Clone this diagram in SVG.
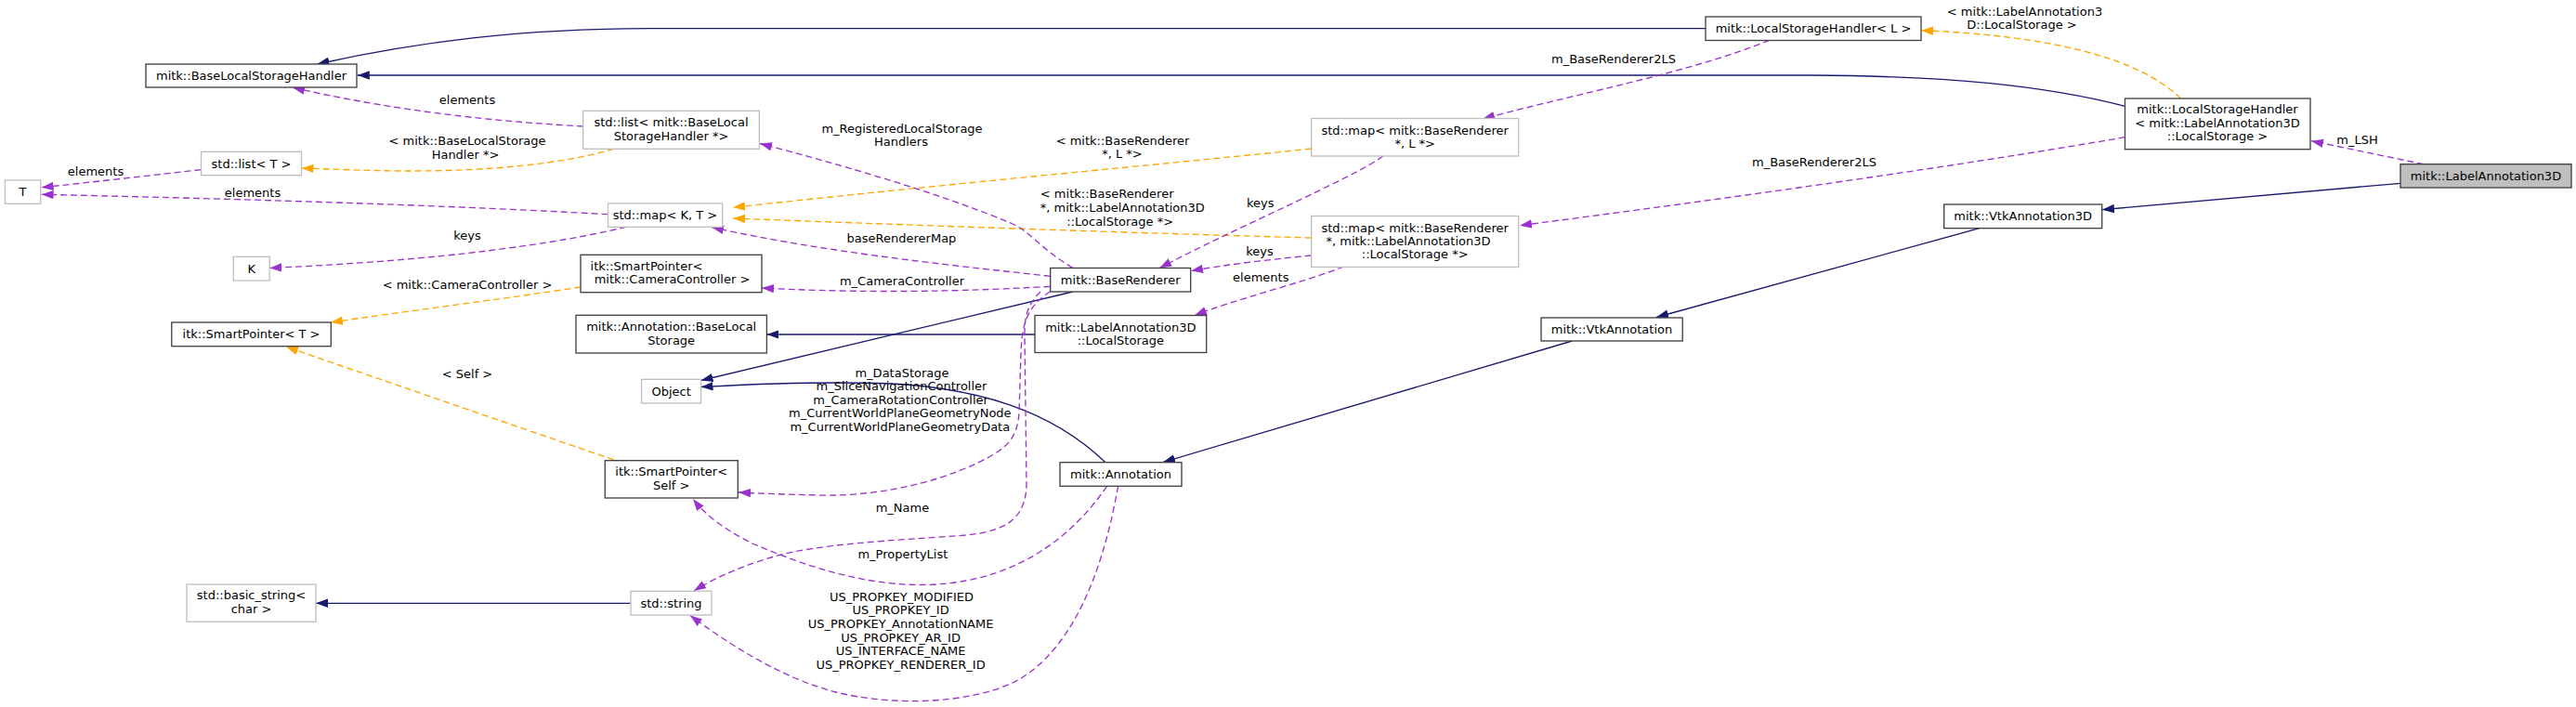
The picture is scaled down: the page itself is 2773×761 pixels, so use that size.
<svg xmlns="http://www.w3.org/2000/svg" width="2773" height="761" viewBox="0 0 2773 761">
<style>
text{font-family:"DejaVu Sans","Liberation Sans",sans-serif;font-size:13px;fill:#000;text-anchor:middle}
.nb{fill:#fff;stroke:#404040;stroke-width:1.33}
.ng{fill:#fff;stroke:#bfbfbf;stroke-width:1.33}
.nm{fill:#bfbfbf;stroke:#404040;stroke-width:1.33}
.eb{fill:none;stroke:#191970;stroke-width:1.33;marker-end:url(#ab)}
.ep{fill:none;stroke:#9a32cd;stroke-width:1.33;stroke-dasharray:7,4;marker-end:url(#ap)}
.eo{fill:none;stroke:#ffa500;stroke-width:1.33;stroke-dasharray:7,4;marker-end:url(#ao)}
</style>
<defs>
<marker id="ab" markerUnits="userSpaceOnUse" markerWidth="14" markerHeight="10" refX="13" refY="4.7" orient="auto"><path d="M0,0 L13,4.7 L0,9.4 Z" fill="#191970"/></marker>
<marker id="ap" markerUnits="userSpaceOnUse" markerWidth="14" markerHeight="10" refX="13" refY="4.7" orient="auto"><path d="M0,0 L13,4.7 L0,9.4 Z" fill="#9a32cd"/></marker>
<marker id="ao" markerUnits="userSpaceOnUse" markerWidth="14" markerHeight="10" refX="13" refY="4.7" orient="auto"><path d="M0,0 L13,4.7 L0,9.4 Z" fill="#ffa500"/></marker>
</defs>
<rect width="2773" height="761" fill="#fff"/>
<g id="connectors">
<path class="eb" d="M1836,30.7 L700,30.7 C560,31 450,45 341.5,69"/>
<path class="eb" d="M2287.5,114.3 C2200,92 2100,82 1950,81 L384.8,81"/>
<path class="eo" d="M2347.6,106 C2300,60 2200,38 2068,32.7"/>
<path class="ep" d="M1904.6,43.3 C1820,78 1700,100 1596,128"/>
<path class="ep" d="M2287.5,147.7 C2100,180 1850,215 1636,242.7"/>
<path class="ep" d="M2609,176.7 L2488,151.7"/>
<path class="eb" d="M2584,197.3 L2263,225.7"/>
<path class="eb" d="M2130.7,245.7 L1783,341.5"/>
<path class="eb" d="M1692.3,367 L1252,497.5"/>
<path class="eb" d="M1190,497.7 C1130,440 1050,418 960,413 C880,410 800,414 754.5,416.5"/>
<path class="eb" d="M1155,314 L754.5,409.5"/>
<path class="eb" d="M1114,360 L825.4,360"/>
<path class="eb" d="M679,649.3 L340,649.3"/>
<path class="ep" d="M628,136 C520,130 420,118 315,94.3"/>
<path class="eo" d="M660.7,160.3 C600,178 520,184 440,184 C400,184 360,182 324.5,181"/>
<path class="ep" d="M216.5,182.7 C150,190 100,196 44.6,201.7"/>
<path class="ep" d="M654.5,230.7 C500,222 300,215 44.6,209.3"/>
<path class="ep" d="M674,244.3 C600,262 480,280 290.2,288.5"/>
<path class="eo" d="M1411.7,160 C1300,172 1000,200 789,223.3"/>
<path class="eo" d="M1411.7,256 C1200,250 1000,243 789,235"/>
<path class="ep" d="M1130.7,297.3 C1000,283 880,270 766,244.5"/>
<path class="ep" d="M1130.7,308.3 C1000,316 900,314 820,310"/>
<path class="ep" d="M1155,288.3 C1120,268 1110,250 1090,241 C1010,207 900,176 818,154.5"/>
<path class="ep" d="M1488.8,168 C1460,190 1320,250 1248.3,288.5"/>
<path class="ep" d="M1411.7,275 C1360,280 1320,285 1282,291.5"/>
<path class="ep" d="M1446.7,287 C1400,305 1330,322 1286,339.5"/>
<path class="ep" d="M1131,313.5 C1108,328 1100,345 1099,380 L1097,445 C1095,470 1085,480 1068,490 C1030,512 960,535 880,533 C840,532 815,531 795,530"/>
<path class="ep" d="M1120,314 C1106,328 1103,340 1103,360 L1105,520 C1105,560 1080,572 1040,576 C960,582 880,585 830,600 C790,612 765,625 747,636"/>
<path class="ep" d="M1191.5,523.3 C1160,570 1110,612 1040,625 C960,640 880,615 810,585 C780,570 760,555 746,537"/>
<path class="ep" d="M1203.6,523.5 C1190,600 1160,700 1090,735 C1040,758 960,760 900,745 C840,730 780,690 743,662.5"/>
<path class="eo" d="M625,309 C540,322 430,336 356,347"/>
<path class="eo" d="M660.7,495 L308,373.3"/>
</g>
<g id="edge-labels">
<text x="503" y="111.5">elements</text>
<text x="503" y="156.2">&lt; mitk::BaseLocalStorage</text>
<text x="501" y="171.2">Handler *&gt;</text>
<text x="103" y="188.8">elements</text>
<text x="272" y="212.2">elements</text>
<text x="503" y="257.5">keys</text>
<text x="503" y="311.2">&lt; mitk::CameraController &gt;</text>
<text x="503" y="406.8">&lt; Self &gt;</text>
<text x="971" y="142.8">m_RegisteredLocalStorage</text>
<text x="970" y="157.2">Handlers</text>
<text x="1208.5" y="155.5">&lt; mitk::BaseRenderer</text>
<text x="1208" y="170">*, L *&gt;</text>
<text x="1191.7" y="212.8">&lt; mitk::BaseRenderer</text>
<text x="1208.3" y="227.8">*, mitk::LabelAnnotation3D</text>
<text x="1205.7" y="242.8">::LocalStorage *&gt;</text>
<text x="970.5" y="261.2">baseRendererMap</text>
<text x="971" y="307.2">m_CameraController</text>
<text x="971" y="405.5">m_DataStorage</text>
<text x="970.5" y="420.2">m_SliceNavigationController</text>
<text x="969.6" y="435.2">m_CameraRotationController</text>
<text x="968.8" y="449.2">m_CurrentWorldPlaneGeometryNode</text>
<text x="968.8" y="464.2">m_CurrentWorldPlaneGeometryData</text>
<text x="971.4" y="551.2">m_Name</text>
<text x="971.9" y="601.2">m_PropertyList</text>
<text x="970.5" y="647.2">US_PROPKEY_MODIFIED</text>
<text x="969.6" y="661.2">US_PROPKEY_ID</text>
<text x="969.6" y="676.2">US_PROPKEY_AnnotationNAME</text>
<text x="969.6" y="691.2">US_PROPKEY_AR_ID</text>
<text x="969.6" y="705.2">US_INTERFACE_NAME</text>
<text x="969.6" y="720.2">US_PROPKEY_RENDERER_ID</text>
<text x="1737" y="67.8">m_BaseRenderer2LS</text>
<text x="1953" y="179.2">m_BaseRenderer2LS</text>
<text x="1356.7" y="222.8">keys</text>
<text x="1356" y="274.5">keys</text>
<text x="1357.3" y="302.8">elements</text>
<text x="2179.5" y="16.5">&lt; mitk::LabelAnnotation3</text>
<text x="2176.5" y="31.2">D::LocalStorage &gt;</text>
<text x="2537.5" y="155">m_LSH</text>
</g>
<g id="n_blsh"><rect class="nb" x="157" y="69" width="227" height="25"/><text x="270.5" y="86">mitk::BaseLocalStorageHandler</text></g>
<g id="n_lshL"><rect class="nb" x="1836" y="18" width="232" height="25.5"/><text x="1952" y="35.2">mitk::LocalStorageHandler&lt; L &gt;</text></g>
<g id="n_lshLA"><rect class="nb" x="2287.5" y="106" width="199.5" height="54.7"/><text x="2387" y="122.2">mitk::LocalStorageHandler</text><text x="2387" y="136.8">&lt; mitk::LabelAnnotation3D</text><text x="2387" y="151.2">::LocalStorage &gt;</text></g>
<g id="n_la3d"><rect class="nm" x="2584" y="176.7" width="184" height="25.3"/><text x="2676" y="193.5">mitk::LabelAnnotation3D</text></g>
<g id="n_vtk3d"><rect class="nb" x="2092.7" y="220" width="170" height="25.7"/><text x="2177.7" y="237.3">mitk::VtkAnnotation3D</text></g>
<g id="n_T"><rect class="ng" x="5.4" y="194" width="38.4" height="25.3"/><text x="24.6" y="211">T</text></g>
<g id="n_listT"><rect class="ng" x="216.5" y="163.3" width="108" height="25.4"/><text x="270.5" y="180.5">std::list&lt; T &gt;</text></g>
<g id="n_listB"><rect class="ng" x="627.7" y="119.3" width="189.7" height="41"/><text x="722.5" y="136.2">std::list&lt; mitk::BaseLocal</text><text x="722.5" y="151.2">StorageHandler *&gt;</text></g>
<g id="n_mapKT"><rect class="ng" x="654.5" y="219" width="123.2" height="25.3"/><text x="716" y="236">std::map&lt; K, T &gt;</text></g>
<g id="n_K"><rect class="ng" x="251.3" y="276.3" width="38.9" height="25.7"/><text x="270.7" y="293.5">K</text></g>
<g id="n_spT"><rect class="nb" x="184.8" y="347" width="171.5" height="25.7"/><text x="270.5" y="364.3">itk::SmartPointer&lt; T &gt;</text></g>
<g id="n_mapBRL"><rect class="ng" x="1411.7" y="127.5" width="223" height="40.5"/><text x="1523.2" y="144.5">std::map&lt; mitk::BaseRenderer</text><text x="1523.2" y="158.8">*, L *&gt;</text></g>
<g id="n_mapBRLS"><rect class="ng" x="1411.7" y="232.5" width="223" height="55"/><text x="1523.2" y="249.5">std::map&lt; mitk::BaseRenderer</text><text x="1516" y="263.8">*, mitk::LabelAnnotation3D</text><text x="1523.2" y="278">::LocalStorage *&gt;</text></g>
<g id="n_spCC"><rect class="nb" x="625" y="274.3" width="195" height="40.4"/><text x="696" y="291.2">itk::SmartPointer&lt;</text><text x="723.5" y="305.2">mitk::CameraController &gt;</text></g>
<g id="n_blsAnn"><rect class="nb" x="620" y="339.3" width="205.4" height="40.7"/><text x="722.7" y="356.2">mitk::Annotation::BaseLocal</text><text x="722.7" y="371.2">Storage</text></g>
<g id="n_br"><rect class="nb" x="1130.7" y="288.5" width="151" height="25.5"/><text x="1206.2" y="305.7">mitk::BaseRenderer</text></g>
<g id="n_la3dLS"><rect class="nb" x="1114" y="339.5" width="184.7" height="40"/><text x="1206.3" y="356.5">mitk::LabelAnnotation3D</text><text x="1206.3" y="371.2">::LocalStorage</text></g>
<g id="n_obj"><rect class="ng" x="690.6" y="408.3" width="64" height="25.7"/><text x="722.6" y="425.5">Object</text></g>
<g id="n_vtk"><rect class="nb" x="1659" y="342" width="152.2" height="25"/><text x="1735" y="359">mitk::VtkAnnotation</text></g>
<g id="n_ann"><rect class="nb" x="1141" y="497.7" width="131" height="25.6"/><text x="1206.5" y="515">mitk::Annotation</text></g>
<g id="n_spSelf"><rect class="nb" x="651.3" y="495.7" width="143" height="40.3"/><text x="722.7" y="511.8">itk::SmartPointer&lt;</text><text x="722.7" y="526.8">Self &gt;</text></g>
<g id="n_bstr"><rect class="ng" x="201" y="629" width="139" height="40.3"/><text x="270.5" y="645.2">std::basic_string&lt;</text><text x="270.5" y="659.8">char &gt;</text></g>
<g id="n_str"><rect class="ng" x="679" y="636.3" width="87" height="25.7"/><text x="722.5" y="653.7">std::string</text></g>
</svg>
